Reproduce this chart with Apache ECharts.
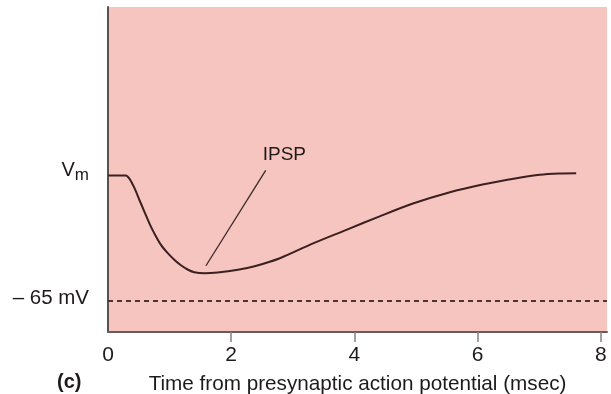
<!DOCTYPE html>
<html>
<head>
<meta charset="utf-8">
<script src="https://cdn.jsdelivr.net/npm/echarts@6/dist/echarts.min.js"></script>
<style>
  html, body { margin: 0; padding: 0; background: #ffffff; }
  #chart { width: 611px; height: 394px; }
</style>
</head>
<body>
<div id="chart"></div>
<script>
// Time after the presynaptic spike (msec) and membrane potential (mV)
const timeMs = [0, 0.29, 0.35, 0.43, 0.51, 0.59, 0.67, 0.75, 0.86, 0.97, 1.08, 1.19, 1.3, 1.4,
                1.57, 1.78, 2.11, 2.38, 2.79, 3.32, 3.87, 4.41, 4.95, 5.55, 6.08, 6.63, 7.01, 7.33, 7.6];
const vmMv   = [-60, -60, -60.14, -60.51, -60.98, -61.44, -61.9, -62.3, -62.77, -63.1, -63.37, -63.59, -63.76, -63.86,
                -63.9, -63.87, -63.76, -63.62, -63.3, -62.72, -62.17, -61.63, -61.12, -60.67, -60.36, -60.11, -59.97, -59.92, -59.91];
const restingMv = -65;
const vmLevel = -60;
const xTicks = [0, 2, 4, 6, 8];
// Leader line for the IPSP callout: [time, mV] at the trough end and the label end
const calloutTime = [1.59, 2.56];
const calloutMv = [-63.6, -59.8];

const ink = '#1e1a1a';
const trace = timeMs.map((t, i) => [t, vmMv[i]]);
const callout = calloutTime.map((t, i) => [t, calloutMv[i]]);

const chart = echarts.init(document.getElementById('chart'), null, { renderer: 'canvas' });
chart.setOption({
  animation: false,
  backgroundColor: '#ffffff',
  textStyle: { fontFamily: 'Liberation Sans, Arial, sans-serif' },
  grid: {
    left: 108, right: 4, top: 7, bottom: 62,
    outerBoundsMode: 'none', containLabel: false,
    show: true, backgroundColor: '#f6c5bf', borderWidth: 0
  },
  xAxis: {
    type: 'value', min: 0, max: 8.1,
    name: 'Time from presynaptic action potential (msec)',
    nameLocation: 'middle', nameGap: 42,
    nameTextStyle: { color: ink, fontSize: 20.7 },
    splitLine: { show: false },
    axisLine: { show: true, lineStyle: { color: '#6a5a5a', width: 2 } },
    axisTick: { show: true, length: 10, customValues: [2, 4, 6, 8],
                lineStyle: { color: '#8a8080', width: 1.5 } },
    axisLabel: { customValues: xTicks, color: ink, fontSize: 21, margin: 13,
                 formatter: v => String(v) }
  },
  yAxis: {
    type: 'value', min: -66.24, max: -53.29,
    splitLine: { show: false },
    axisLine: { show: true, lineStyle: { color: '#5a5050', width: 2 } },
    axisTick: { show: false },
    axisLabel: {
      customValues: [restingMv, vmLevel],
      margin: 19,
      color: ink,
      formatter: v => v === vmLevel ? '{v|V}{s|m}' : '{n|\u2013 65 mV}',
      rich: {
        v: { fontSize: 20, color: ink, padding: [0, 0, 10, 0] },
        s: { fontSize: 17, color: ink, padding: [0, 0, 0, 0] },
        n: { fontSize: 20.5, color: ink, padding: [0, 0, 6, 0] }
      }
    }
  },
  graphic: [{
    type: 'text', left: 57, top: 372,
    style: { text: '(c)', fill: ink, font: 'bold 20px Liberation Sans, Arial, sans-serif' }
  }],
  series: [
    {
      name: 'Vm', type: 'line', data: trace, smooth: 0.3,
      showSymbol: false, symbol: 'none',
      lineStyle: { color: '#3a2020', width: 2 },
      markLine: {
        silent: true, symbol: 'none', label: { show: false },
        lineStyle: { color: '#4a3535', width: 2, type: [5, 4] },
        data: [{ yAxis: restingMv }]
      }
    },
    {
      name: 'IPSP', type: 'line', data: callout, symbol: 'none', showSymbol: false,
      lineStyle: { color: '#3a2828', width: 1.3 },
      endLabel: {
        show: true, formatter: 'IPSP', color: ink, fontSize: 19,
        offset: [-11, -16]
      }
    }
  ]
});
</script>
</body>
</html>
